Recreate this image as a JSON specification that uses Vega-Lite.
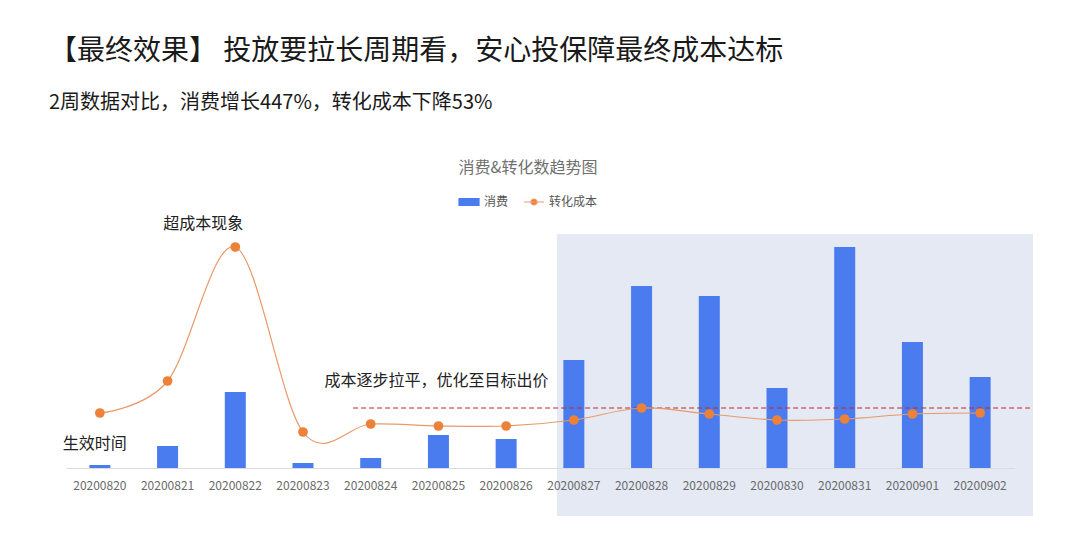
{
  "$schema": "https://vega.github.io/schema/vega-lite/v6.json",
  "width": 948,
  "height": 250,
  "autosize": {"type": "none"},
  "padding": {"left": 66, "top": 218, "right": 66, "bottom": 66},
  "background": "white",
  "config": {
    "view": {"stroke": null},
    "font": "Noto Sans CJK SC",
    "axisX": {
      "title": null,
      "labelAngle": 0,
      "ticks": false,
      "grid": false,
      "domainColor": "#dcdcdc",
      "labelColor": "#6a6a6a",
      "labelFontSize": 12,
      "labelPadding": 12,
      "labelFont": "Noto Sans CJK SC"
    }
  },
  "title": {
    "text": "【最终效果】 投放要拉长周期看，安心投保障最终成本达标",
    "subtitle": "2周数据对比，消费增长447%，转化成本下降53%",
    "anchor": "start",
    "frame": "group",
    "font": "Noto Sans CJK SC",
    "fontSize": 28,
    "fontWeight": "normal",
    "color": "#1a1a1a",
    "subtitleFont": "Noto Sans CJK SC",
    "subtitleFontSize": 20,
    "subtitleColor": "#1a1a1a",
    "subtitlePadding": 27,
    "offset": 47,
    "dx": -17
  },
  "datasets": {
    "daily": [
      {"date": "20200820", "spend": 300, "cost": 110},
      {"date": "20200821", "spend": 2200, "cost": 174},
      {"date": "20200822", "spend": 7600, "cost": 442},
      {"date": "20200823", "spend": 500, "cost": 72},
      {"date": "20200824", "spend": 1000, "cost": 88},
      {"date": "20200825", "spend": 3300, "cost": 84},
      {"date": "20200826", "spend": 2900, "cost": 84},
      {"date": "20200827", "spend": 10800, "cost": 96},
      {"date": "20200828", "spend": 18200, "cost": 120},
      {"date": "20200829", "spend": 17200, "cost": 108},
      {"date": "20200830", "spend": 8000, "cost": 96},
      {"date": "20200831", "spend": 22100, "cost": 98},
      {"date": "20200901", "spend": 12600, "cost": 108},
      {"date": "20200902", "spend": 9100, "cost": 110}
    ]
  },
  "data": {"name": "daily"},
  "resolve": {"scale": {"y": "independent"}},
  "layer": [
    {
      "data": {"values": [{}]},
      "mark": {"type": "rect", "color": "#e4e9f4"},
      "encoding": {
        "x": {"datum": "20200827", "bandPosition": 0.25, "type": "nominal"},
        "x2": {"datum": "20200902", "bandPosition": 1.28},
        "y": {"datum": 468, "type": "quantitative", "scale": {"domain": [0, 500], "nice": false, "zero": false}, "axis": null},
        "y2": {"datum": -96}
      }
    },
    {
      "mark": {"type": "bar", "width": 21},
      "encoding": {
        "x": {"field": "date", "type": "nominal"},
        "y": {"field": "spend", "type": "quantitative", "scale": {"domain": [0, 25000], "nice": false}, "axis": null},
        "color": {
          "datum": "消费",
          "type": "nominal",
          "scale": {"domain": ["消费", "转化成本"], "range": ["#4a7cef", "#ec8139"]},
          "legend": {
            "title": "消费&转化数趋势图",
            "orient": "none",
            "legendX": 392,
            "legendY": -58,
            "direction": "horizontal",
            "titleAnchor": "middle",
            "titleOrient": "top",
            "titleFont": "Noto Sans CJK SC",
            "titleFontSize": 16,
            "titleFontWeight": "normal",
            "titleColor": "#707070",
            "titlePadding": 15,
            "labelFont": "Noto Sans CJK SC",
            "labelFontSize": 12,
            "labelColor": "#555555",
            "labelOffset": 4,
            "columnPadding": 12,
            "symbolSize": 400,
            "padding": 0,
            "encode": {
              "symbols": {
                "update": {
                  "shape": {"signal": "datum.value === '消费' ? 'M-1,-0.35H1V0.35H-1Z' : 'M-1,0H1M-0.3,0A0.3,0.3,0,1,1,0.3,0A0.3,0.3,0,1,1,-0.3,0Z'"},
                  "fill": {"signal": "datum.value === '消费' ? '#4a7cef' : '#ec8139'"},
                  "stroke": {"signal": "datum.value === '消费' ? '#4a7cef' : '#e89a6a'"},
                  "strokeWidth": {"value": 1.2},
                  "opacity": {"value": 1},
                  "fillOpacity": {"value": 1}
                }
              }
            }
          }
        }
      }
    },
    {
      "data": {"values": [{}]},
      "mark": {"type": "rule", "color": "#c0282d", "strokeDash": [5, 3], "strokeWidth": 1},
      "encoding": {
        "x": {"datum": "20200824", "bandPosition": 0.24, "type": "nominal"},
        "x2": {"datum": "20200902", "bandPosition": 1.236},
        "y": {"datum": 120, "type": "quantitative", "scale": {"domain": [0, 500], "nice": false}, "axis": null}
      }
    },
    {
      "mark": {"type": "line", "interpolate": "cardinal", "color": "#e89a6a", "strokeWidth": 1.2},
      "encoding": {
        "x": {"field": "date", "type": "nominal"},
        "y": {"field": "cost", "type": "quantitative", "scale": {"domain": [0, 500], "nice": false}, "axis": null}
      }
    },
    {
      "mark": {"type": "circle", "size": 95, "opacity": 1},
      "encoding": {
        "x": {"field": "date", "type": "nominal"},
        "y": {"field": "cost", "type": "quantitative", "scale": {"domain": [0, 500], "nice": false}, "axis": null},
        "color": {"datum": "转化成本", "type": "nominal"}
      }
    },
    {
      "transform": [{"filter": "datum.date === '20200822'"}],
      "mark": {"type": "text", "fontSize": 16, "color": "#222222", "dx": -32, "dy": -23, "align": "center", "baseline": "middle"},
      "encoding": {
        "x": {"field": "date", "type": "nominal"},
        "y": {"field": "cost", "type": "quantitative", "scale": {"domain": [0, 500], "nice": false}, "axis": null},
        "text": {"value": "超成本现象"}
      }
    },
    {
      "transform": [{"filter": "datum.date === '20200820'"}],
      "mark": {"type": "text", "fontSize": 16, "color": "#222222", "dx": -5, "dy": -21, "align": "center", "baseline": "middle"},
      "encoding": {
        "x": {"field": "date", "type": "nominal"},
        "y": {"field": "spend", "type": "quantitative", "scale": {"domain": [0, 25000], "nice": false}, "axis": null},
        "text": {"value": "生效时间"}
      }
    },
    {
      "data": {"values": [{}]},
      "mark": {"type": "text", "fontSize": 16, "color": "#222222", "dx": -2, "dy": -27, "align": "center", "baseline": "middle"},
      "encoding": {
        "x": {"datum": "20200825", "type": "nominal"},
        "y": {"datum": 120, "type": "quantitative", "scale": {"domain": [0, 500], "nice": false}, "axis": null},
        "text": {"value": "成本逐步拉平，优化至目标出价"}
      }
    }
  ]
}
